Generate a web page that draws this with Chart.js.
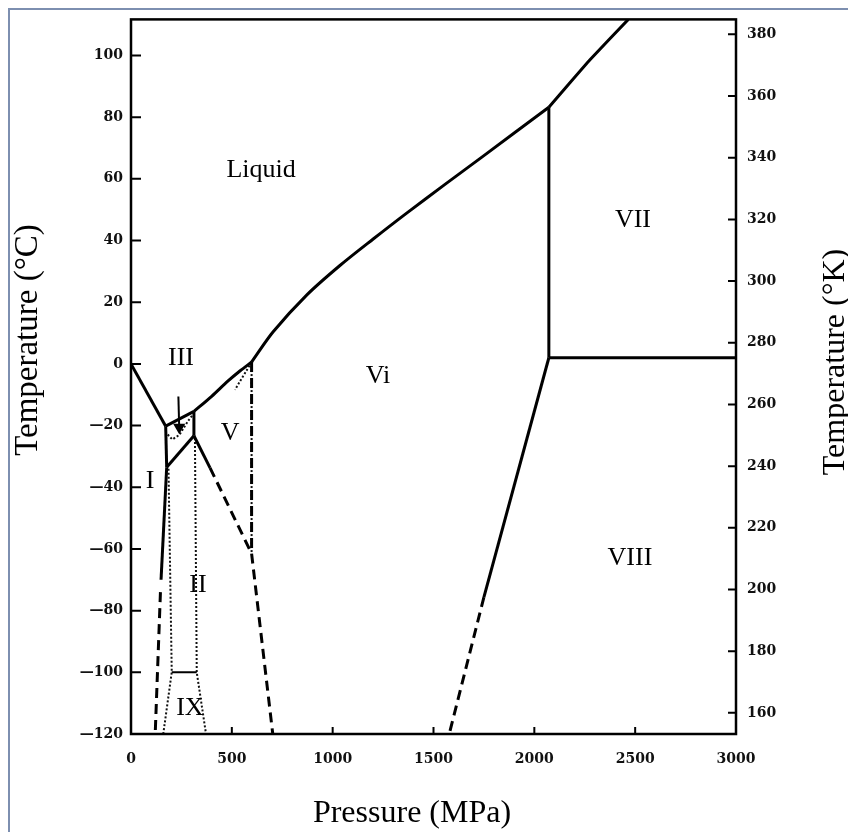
<!DOCTYPE html>
<html>
<head>
<meta charset="utf-8">
<script src="https://cdn.jsdelivr.net/npm/chart.js@4.4.0/dist/chart.umd.min.js"></script>
<style>
  html, body { margin: 0; padding: 0; background: #fff; }
  #wrap { width: 848px; height: 832px; }
</style>
</head>
<body>
<div id="wrap"><canvas id="phase" width="848" height="832"></canvas></div>
<script>
// axis ticks
const pressureTicks = [0, 500, 1000, 1500, 2000, 2500, 3000];
const celsiusTicks = [-120, -100, -80, -60, -40, -20, 0, 20, 40, 60, 80, 100];
const kelvinTicks = [160, 180, 200, 220, 240, 260, 280, 300, 320, 340, 360, 380];
const tMin = -120, tMax = 111.7;

// solid boundaries, [MPa, °C]
const liquidI = [[0, 0], [172, -20.2]];
const liquidIII = [[172, -20.2], [312, -15.4]];
const liquidV = [[312, -15.4], [400, -10.5], [480, -5.6], [540, -2.3], [598, 0.6]];
const liquidVI = [[598, 0.6], [705, 10.4], [871, 22.3], [1036, 31.9], [1201, 40.5], [1367, 48.9], [1557, 58.2], [1745, 67.3], [2072, 83.2]];
const liquidVII = [[2072, 83.2], [2168, 90.5], [2276, 98.6], [2466, 111.7]];
const iceI_III = [[172, -20.2], [177, -33.5]];
const iceII_III = [[177, -33.5], [312, -23.3]];
const iceIII_V = [[312, -15.4], [312, -23.3]];
const iceI_II = [[177, -33.5], [149, -70]];
const iceII_V = [[312, -23.3], [392, -33.7]];
const iceVI_VII = [[2072, 83.2], [2072, 2]];
const iceVII_VIII = [[2072, 2], [3000, 2]];
const iceVI_VIII = [[2072, 2], [1750, -75.6]];
const iceII_IX = [[202, -100], [326, -100]];

// dashed (extrapolated)
const dashI_II = [[146, -74], [120, -120]];
const dashII_V = [[392, -33.7], [598, -61.5]];
const dashII_VI = [[598, -61.5], [703, -120]];
const dashV_VI = [[598, 0.6], [598, -61.5]];
const dashVI_VIII = [[1750, -75.6], [1578, -120]];

// dotted (metastable)
const dotIII = [[182, -22.9], [205, -24.5], [240, -23], [284, -18.4], [303, -16.8]];
const dotV = [[598, 0.6], [565, -3], [540, -5.7], [516, -8.4]];
const dotIXleft = [[186, -34], [202, -100], [160, -120]];
const dotIXright = [[317, -24], [326, -100], [372, -120]];
const dotV_VI = [[598, 0.6], [598, -61.5]];

// arrow into the ice III field
const arrowP = [235, 239];
const arrowT = [-10.6, -20.5];

// phase names
const regionNames = ['Liquid', 'VII', 'VIII', 'Vi', 'III', 'V', 'I', 'II', 'IX'];
const regionP = [645, 2489, 2474, 1225, 248, 491, 94, 332, 292];
const regionT = [62.7, 46.5, -63.1, -4.1, 2.0, -22.5, -38, -71.8, -111.5];

const pts = arr => arr.map(([p, t]) => ({ x: p, y: t }));

function solid(arr, tension) {
    return { data: pts(arr), showLine: true, pointRadius: 0, borderColor: '#000', borderWidth: 3, fill: false, tension: tension || 0 };
}
function dashed(arr) {
    return { data: pts(arr), showLine: true, pointRadius: 0, borderColor: '#000', borderWidth: 3, borderDash: [10, 6], fill: false };
}
function dotted(arr) {
    return { data: pts(arr), showLine: true, pointRadius: 0, borderColor: '#111', borderWidth: 2, borderDash: [2, 2], fill: false };
}

const datasets = [
    solid(liquidI), solid(liquidIII), solid(liquidV, 0.3), solid(liquidVI, 0.3), solid(liquidVII, 0.1),
    solid(iceI_III), solid(iceII_III), solid(iceIII_V), solid(iceI_II), solid(iceII_V),
    solid(iceVI_VII), solid(iceVII_VIII), solid(iceVI_VIII), { ...solid(iceII_IX), borderWidth: 2 },
    dashed(dashI_II), dashed(dashII_V), dashed(dashII_VI), dashed(dashV_VI), dashed(dashVI_VIII),
    dotted(dotIII), dotted(dotV), dotted(dotIXleft), dotted(dotIXright), dotted(dotV_VI),
    {
        data: arrowP.map((p, i) => ({ x: p, y: arrowT[i] })),
        showLine: true, borderColor: '#000', borderWidth: 2,
        pointRadius: [0, 5], pointStyle: 'triangle', rotation: 180,
        pointBackgroundColor: '#000', pointBorderColor: '#000'
    }
];

const tickFont = { family: 'DejaVu Serif', size: 14, weight: 'bold' };

// frame, inward ticks, phase names, axis titles
const decorations = {
    id: 'decorations',
    beforeDraw(chart) {
        const ctx = chart.ctx;
        ctx.save();
        ctx.fillStyle = '#fff';
        ctx.fillRect(0, 0, chart.width, chart.height);
        ctx.strokeStyle = '#7d8fb0';
        ctx.lineWidth = 2;
        ctx.strokeRect(9, 9, 900, 900);
        ctx.restore();
    },
    afterDraw(chart) {
        const { ctx, chartArea: a, scales } = chart;
        ctx.save();
        ctx.strokeStyle = '#000';
        ctx.lineWidth = 2.5;
        ctx.strokeRect(a.left, a.top, a.right - a.left, a.bottom - a.top);

        ctx.lineWidth = 2;
        ctx.beginPath();
        scales.x.ticks.forEach(t => {
            const px = scales.x.getPixelForValue(t.value);
            ctx.moveTo(px, a.bottom); ctx.lineTo(px, a.bottom - 7);
        });
        scales.y.ticks.forEach(t => {
            const py = scales.y.getPixelForValue(t.value);
            ctx.moveTo(a.left, py); ctx.lineTo(a.left + 10, py);
        });
        scales.yK.ticks.forEach(t => {
            const py = scales.yK.getPixelForValue(t.value);
            ctx.moveTo(a.right, py); ctx.lineTo(a.right - 8, py);
        });
        ctx.stroke();

        ctx.fillStyle = '#000';
        ctx.textAlign = 'center';
        ctx.textBaseline = 'middle';
        ctx.font = '26px "Liberation Serif"';
        regionNames.forEach((name, i) => {
            ctx.fillText(name, scales.x.getPixelForValue(regionP[i]), scales.y.getPixelForValue(regionT[i]));
        });

        ctx.font = '32px "Liberation Serif"';
        ctx.fillText('Pressure (MPa)', 412, 814);
        ctx.save();
        ctx.translate(28, 340);
        ctx.rotate(-Math.PI / 2);
        ctx.font = '33px "Liberation Serif"';
        ctx.fillText('Temperature (°C)', 0, 0);
        ctx.restore();
        ctx.save();
        ctx.translate(836, 362);
        ctx.rotate(-Math.PI / 2);
        ctx.fillText('Temperature (°K)', 0, 0);
        ctx.restore();
        ctx.restore();
    }
};

new Chart(document.getElementById('phase'), {
    type: 'scatter',
    data: { datasets },
    options: {
        responsive: false,
        animation: false,
        devicePixelRatio: 1,
        layout: { padding: { top: 16, left: 0, right: 0, bottom: 0 } },
        plugins: { legend: { display: false }, tooltip: { enabled: false } },
        scales: {
            x: {
                type: 'linear', min: 0, max: 3000,
                afterBuildTicks: s => { s.ticks = pressureTicks.map(v => ({ value: v })); },
                afterFit: s => { s.height = 98; },
                grid: { display: false, drawTicks: false },
                border: { display: false },
                ticks: { font: tickFont, color: '#111', padding: 17, maxRotation: 0, callback: v => String(v) }
            },
            y: {
                type: 'linear', position: 'left', min: tMin, max: tMax,
                afterBuildTicks: s => { s.ticks = celsiusTicks.map(v => ({ value: v })); },
                afterFit: s => { s.width = 131; },
                grid: { display: false, drawTicks: false },
                border: { display: false },
                ticks: {
                    font: tickFont, color: '#111', padding: 8,
                    callback: v => v < 0 ? '—' + Math.abs(v) : String(v)
                }
            },
            yK: {
                type: 'linear', position: 'right', min: tMin + 273.15, max: tMax + 273.15,
                afterBuildTicks: s => { s.ticks = kelvinTicks.map(v => ({ value: v })); },
                afterFit: s => { s.width = 112; },
                grid: { display: false, drawTicks: false },
                border: { display: false },
                ticks: { font: tickFont, color: '#111', padding: 11, callback: v => String(v) }
            }
        }
    },
    plugins: [decorations]
});
</script>
</body>
</html>
